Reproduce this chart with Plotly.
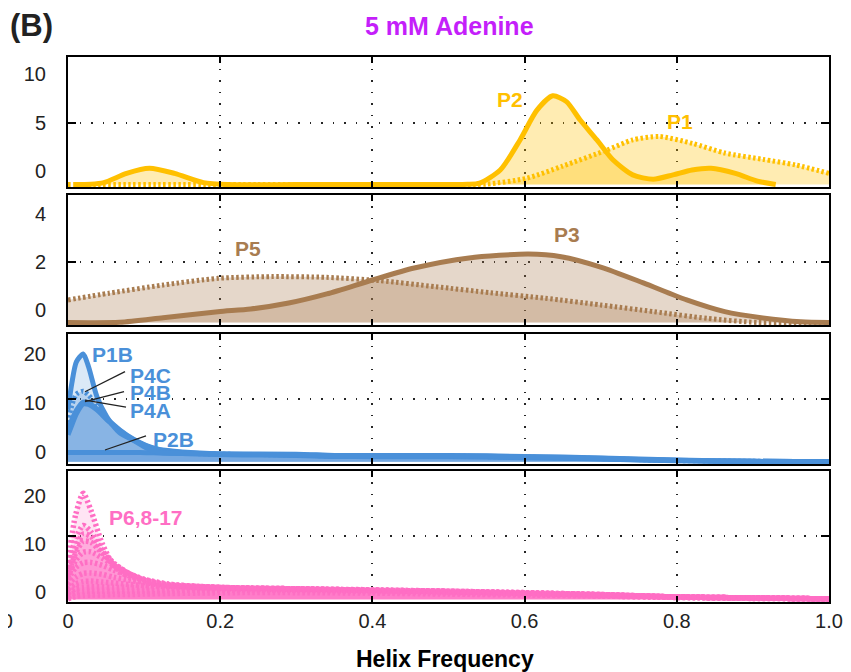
import plotly.graph_objects as go

# ---------------- data (values read against the printed tick labels) ----------------
# Panel 1 (yellow): P2 solid, P1 dotted
p2_x = [0.008, 0.03, 0.047, 0.077, 0.107, 0.14, 0.178, 0.21, 0.3, 0.4, 0.5, 0.525,
        0.541, 0.568, 0.594, 0.616, 0.637, 0.655, 0.673, 0.695, 0.716, 0.742, 0.769,
        0.795, 0.82, 0.845, 0.877, 0.906, 0.93]
p2_y = [-1.35, -1.32, -1.15, -0.2, 0.33, -0.2, -1.15, -1.35, -1.35, -1.35, -1.35, -1.33,
        -1.2, 0.15, 3.25, 6.3, 7.8, 7.2, 5.3, 3.25, 1.2, -0.35, -0.8,
        -0.35, 0.15, 0.33, -0.2, -1.0, -1.35]
p1_x = [0.0, 0.25, 0.5, 0.55, 0.603, 0.65, 0.708, 0.742, 0.777, 0.82, 0.863, 0.913, 0.956, 1.0]
p1_y = [-1.35, -1.35, -1.35, -1.3, -0.7, 0.55, 2.2, 3.25, 3.6, 2.9, 1.9, 1.25, 0.67, -0.2]

# Panel 2 (brown): P3 solid, P5 dotted
p3_x = [0.0, 0.068, 0.125, 0.197, 0.24, 0.29, 0.34, 0.40, 0.455, 0.527, 0.605, 0.648,
        0.70, 0.756, 0.813, 0.863, 0.913, 0.963, 1.0]
p3_y = [-0.5, -0.49, -0.3, -0.05, 0.06, 0.31, 0.69, 1.27, 1.77, 2.19, 2.35, 2.24,
        1.81, 1.15, 0.44, -0.05, -0.31, -0.47, -0.5]
p5_x = [0.0, 0.054, 0.125, 0.197, 0.268, 0.34, 0.41, 0.483, 0.555, 0.627, 0.70, 0.77,
        0.84, 0.906, 1.0]
p5_y = [0.44, 0.72, 1.06, 1.34, 1.41, 1.38, 1.24, 0.99, 0.74, 0.51, 0.23, -0.05,
        -0.33, -0.5, -0.5]

# Panel 3 (blue): P1B, P4C (dotted), P4B, P4A, P2B
blue_x = [0.0, 0.005, 0.011, 0.02, 0.027, 0.038, 0.051, 0.068, 0.086, 0.103, 0.12, 0.15,
          0.2, 0.3, 0.35, 0.4, 0.5, 0.6, 0.7, 0.8, 0.9, 1.0]
p1b_y = [8.6, 14.0, 18.4, 20.0, 17.4, 11.3, 7.2, 3.9, 2.4, 0.8, -0.1, -0.3,
         -0.45, -0.55, -0.8, -0.8, -0.8, -1.0, -1.3, -1.7, -1.9, -2.0]
p4c_y = [6.0, 9.5, 11.8, 12.4, 11.6, 9.5, 6.8, 4.2, 2.5, 1.2, 0.3, -0.2,
         -0.45, -0.6, -0.85, -0.85, -0.85, -1.05, -1.35, -1.75, -1.9, -2.0]
p4b_y = [4.5, 6.5, 8.5, 10.2, 10.0, 8.8, 6.8, 4.5, 2.6, 1.3, 0.5, 0.0,
         -0.4, -0.6, -0.85, -0.9, -0.9, -1.1, -1.4, -1.75, -1.9, -2.0]
p4a_y = [3.5, 5.5, 7.8, 9.8, 9.7, 8.6, 6.6, 4.4, 2.5, 1.2, 0.4, -0.1,
         -0.5, -0.7, -0.9, -0.95, -0.95, -1.15, -1.45, -1.8, -1.95, -2.0]
p2b_y = [-0.1, -0.1, -0.1, -0.1, -0.1, -0.1, -0.1, -0.1, -0.1, -0.15, -0.2, -0.3,
         -0.4, -0.45, -0.7, -0.7, -0.7, -0.9, -1.2, -1.65, -1.9, -2.0]

# Panel 4 (pink): P6, P8-P17 (all dotted)
pink_x = [0.0, 0.01, 0.02, 0.03, 0.045, 0.06, 0.08, 0.1, 0.13, 0.17, 0.22, 0.3, 0.4,
          0.5, 0.6, 0.7, 0.8, 0.9, 1.0]
pink_series = [
    [6.0, 16.0, 20.5, 17.0, 10.0, 5.5, 3.0, 2.0, 1.2, 0.8, 0.5, 0.3, 0.0, -0.3, -0.6, -0.9, -1.2, -1.4, -1.5],
    [5.0, 11.0, 13.8, 12.5, 8.5, 5.5, 3.5, 2.2, 1.3, 0.9, 0.6, 0.4, 0.1, -0.2, -0.5, -0.8, -1.1, -1.3, -1.5],
    [4.0, 9.0, 12.0, 11.5, 8.5, 6.0, 3.8, 2.4, 1.4, 1.0, 0.7, 0.5, 0.2, -0.1, -0.4, -0.7, -1.1, -1.3, -1.5],
    [3.5, 8.0, 10.5, 10.3, 8.0, 5.8, 3.8, 2.5, 1.5, 1.0, 0.7, 0.5, 0.2, 0.0, -0.4, -0.7, -1.1, -1.3, -1.5],
    [3.0, 6.5, 8.2, 8.3, 7.0, 5.5, 3.8, 2.6, 1.6, 1.1, 0.8, 0.6, 0.3, 0.0, -0.3, -0.7, -1.1, -1.3, -1.5],
    [2.5, 5.0, 6.0, 6.1, 5.5, 4.5, 3.3, 2.4, 1.6, 1.1, 0.8, 0.6, 0.3, 0.0, -0.3, -0.7, -1.1, -1.3, -1.5],
    [1.5, 3.0, 3.8, 3.9, 3.6, 3.0, 2.4, 1.9, 1.4, 1.1, 0.8, 0.6, 0.3, 0.1, -0.3, -0.6, -1.1, -1.3, -1.5],
    [0.5, 1.6, 2.1, 2.2, 2.0, 1.8, 1.5, 1.3, 1.1, 0.9, 0.8, 0.6, 0.4, 0.1, -0.2, -0.6, -1.1, -1.3, -1.5],
    [-0.3, 0.6, 0.9, 1.0, 1.0, 0.9, 0.9, 0.8, 0.8, 0.7, 0.6, 0.5, 0.3, 0.1, -0.2, -0.6, -1.1, -1.3, -1.5],
    [-1.0, -0.2, 0.0, 0.1, 0.1, 0.1, 0.1, 0.1, 0.2, 0.3, 0.3, 0.3, 0.2, 0.0, -0.3, -0.6, -1.1, -1.3, -1.5],
    [-1.5, -1.0, -0.8, -0.7, -0.7, -0.6, -0.6, -0.5, -0.4, -0.3, -0.2, -0.2, -0.3, -0.5, -0.7, -0.9, -1.2, -1.4, -1.5],
]

x_ticks = [0, 0.2, 0.4, 0.6, 0.8, 1.0]
x_ticktext = ["0", "0.2", "0.4", "0.6", "0.8", "1.0"]
y_ticks = [[0, 5, 10], [0, 2, 4], [0, 10, 20], [0, 10, 20]]
y_grid = [5.0, 2.0, 10.8, 11.6]

# ---------------- styling ----------------
FONT = "Liberation Sans, Arial, Helvetica, sans-serif"
YEL = "#FFC000"
BRN = "#A87C50"
BLU = "#4A90D9"
PNK = "#FF6EC4"
MAG = "#C41FFA"

bases = [-1.35, -0.5, -2.0, -1.6]
yranges = [[-1.6, 11.8], [-0.604, 4.81], [-2.45, 24.08], [-2.15, 25.15]]
domains = [[0.7615, 1.0], [0.5083, 0.7468], [0.2532, 0.4917], [0.0, 0.2404]]

DOT = "2.5px,2.5px"

fig = go.Figure()


def ax(i):
    return ("x" if i == 0 else f"x{i+1}"), ("y" if i == 0 else f"y{i+1}")


def add_fill(i, x, y, color):
    xa, ya = ax(i)
    fig.add_trace(go.Scatter(x=[x[0], x[-1]], y=[bases[i], bases[i]], mode="lines",
                             line=dict(width=0), xaxis=xa, yaxis=ya,
                             showlegend=False, hoverinfo="skip"))
    fig.add_trace(go.Scatter(x=x, y=y, mode="lines", fill="tonexty", fillcolor=color,
                             line=dict(width=0, shape="spline", smoothing=0.7),
                             xaxis=xa, yaxis=ya, showlegend=False, hoverinfo="skip"))


def add_line(i, x, y, color, dash="solid", width=5):
    xa, ya = ax(i)
    fig.add_trace(go.Scatter(x=x, y=y, mode="lines",
                             line=dict(color=color, width=width, dash=dash,
                                       shape="spline", smoothing=0.7),
                             xaxis=xa, yaxis=ya, showlegend=False))


# Panel 1
add_fill(0, p1_x, p1_y, "rgba(255,192,0,0.30)")
add_fill(0, p2_x, p2_y, "rgba(255,192,0,0.30)")
add_line(0, p1_x, p1_y, YEL, DOT)
add_line(0, p2_x, p2_y, YEL)

# Panel 2
add_fill(1, p5_x, p5_y, "rgba(168,124,80,0.30)")
add_fill(1, p3_x, p3_y, "rgba(168,124,80,0.30)")
add_line(1, p5_x, p5_y, BRN, DOT)
add_line(1, p3_x, p3_y, BRN)

# Panel 3
add_fill(2, blue_x, p1b_y, "rgba(74,144,217,0.20)")
add_fill(2, blue_x, p4c_y, "rgba(74,144,217,0.25)")
add_fill(2, blue_x, p4b_y, "rgba(74,144,217,0.25)")
add_fill(2, blue_x, p4a_y, "rgba(74,144,217,0.25)")
add_fill(2, blue_x, p2b_y, "rgba(74,144,217,0.30)")
add_line(2, blue_x, p2b_y, BLU)
add_line(2, blue_x, p4a_y, BLU)
add_line(2, blue_x, p4b_y, BLU)
add_line(2, blue_x, p4c_y, BLU, DOT)
add_line(2, blue_x, p1b_y, BLU)

# Panel 4
for ys in pink_series:
    add_fill(3, pink_x, ys, "rgba(255,110,196,0.19)")
for ys in pink_series:
    add_line(3, pink_x, ys, PNK, DOT, 5.5)

GRIDDASH = "1.5px,10px"
GRIDCOL = "rgba(0,0,0,0.85)"
TICKFONT = dict(size=20, family=FONT, color="#222222")
# the page body adds an 8px offset, so the figure is 8px smaller and shifted
layout = dict(
    width=843, height=664,
    margin=dict(l=60, r=22, t=49, b=70, autoexpand=False),
    paper_bgcolor="white", plot_bgcolor="white",
    font=dict(family=FONT, color="#222222", size=20),
    showlegend=False,
)
for i in range(4):
    xk = "xaxis" if i == 0 else f"xaxis{i+1}"
    yk = "yaxis" if i == 0 else f"yaxis{i+1}"
    xa, ya = ax(i)
    layout[xk] = dict(
        domain=[0, 1], range=[0, 1], anchor=ya, tickmode="array",
        tickvals=x_ticks, ticktext=x_ticktext, showticklabels=(i == 3),
        ticks="inside", ticklen=6, tickwidth=1.5, tickcolor="black",
        showline=True, linewidth=2, linecolor="black", mirror="ticks",
        showgrid=True, gridcolor=GRIDCOL, gridwidth=1.5, griddash=GRIDDASH,
        zeroline=False, ticklabelstandoff=0, automargin=False,
        tickfont=TICKFONT,
    )
    layout[yk] = dict(
        domain=domains[i], range=yranges[i], anchor=xa, tickmode="array",
        tickvals=y_ticks[i], ticktext=[str(v) for v in y_ticks[i]],
        ticks="inside", ticklen=0, showline=True, linewidth=2, linecolor="black",
        mirror="ticks", showgrid=False, zeroline=False, ticklabelstandoff=16,
        automargin=False, tickfont=TICKFONT,
        minor=dict(tickmode="array", tickvals=[y_grid[i]], ticks="inside", ticklen=8,
                   tickwidth=1.5, tickcolor="black", showgrid=True,
                   gridcolor=GRIDCOL, gridwidth=1.5, griddash=GRIDDASH),
    )
fig.update_layout(**layout)

# ---------------- labels ----------------
def label(i, x, y, text, color, size=21):
    xa, ya = ax(i)
    fig.add_annotation(x=x, y=y, xref=xa, yref=ya, text=text, showarrow=False,
                       font=dict(family=FONT, size=size, color=color, weight="bold"))


label(0, 0.581, 7.42, "P2", YEL)
label(0, 0.804, 5.2, "P1", YEL)
label(1, 0.2365, 2.6, "P5", BRN)
label(1, 0.656, 3.15, "P3", BRN)
label(2, 0.059, 20.0, "P1B", BLU)
label(2, 0.108, 15.6, "P4C", BLU)
label(2, 0.108, 12.1, "P4B", BLU)
label(2, 0.109, 8.4, "P4A", BLU)
label(2, 0.138, 2.55, "P2B", BLU)
label(3, 0.1025, 15.5, "P6,8-17", PNK)

leaders = [((0.0223, 12.3), (0.0749, 16.4)),
           ((0.0223, 10.27), (0.0736, 12.3)),
           ((0.0223, 10.6), (0.0762, 9.18)),
           ((0.0486, 0.41), (0.1025, 3.27))]
for (a, b) in leaders:
    fig.add_shape(type="line", xref="x3", yref="y3", x0=a[0], y0=a[1], x1=b[0], y1=b[1],
                  line=dict(color="#222222", width=1.3))

fig.add_annotation(xref="paper", yref="paper", x=0.5007, y=1.056, text="5 mM Adenine",
                   showarrow=False, xanchor="center", yanchor="middle",
                   font=dict(family=FONT, size=25, color=MAG, weight="bold"))
fig.add_annotation(xref="paper", yref="paper", x=-0.0788, y=1.057, text="(B)",
                   showarrow=False, xanchor="left", yanchor="middle",
                   font=dict(family=FONT, size=31, color="#222222", weight="bold"))
fig.add_annotation(xref="paper", yref="paper", x=0.4954, y=-0.1046, text="Helix Frequency",
                   showarrow=False, xanchor="center", yanchor="middle",
                   font=dict(family=FONT, size=23, color="black", weight="bold"))
fig.add_annotation(xref="paper", yref="paper", x=-0.0700, y=-0.0349, text="1.0",
                   showarrow=False, xanchor="right", yanchor="middle",
                   font=dict(family=FONT, size=20, color="#222222"))

fig.write_html("out.html")
